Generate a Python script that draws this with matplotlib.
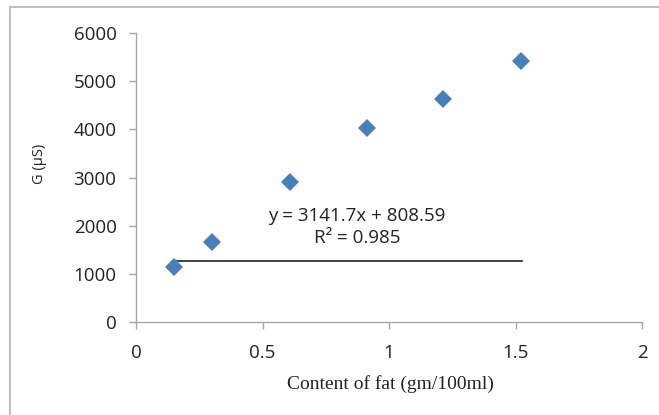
import numpy as np
import matplotlib.pyplot as plt
from matplotlib.patches import Rectangle

# data
FAT = [0.15, 0.30, 0.61, 0.915, 1.215, 1.52]
G = [1140, 1660, 2910, 4020, 4640, 5410]
LINE_X = [0.15, 1.525]
LINE_Y = [1270, 1270]
EQ_TEXT = "y = 3141.7x + 808.59"
R2_TEXT = "R\u00b2 = 0.985"

XTICKS = [0, 0.5, 1, 1.5, 2]
XTICK_LABELS = ["0", "0.5", "1", "1.5", "2"]
YTICKS = [0, 1000, 2000, 3000, 4000, 5000, 6000]

SANS = ["Open Sans", "DejaVu Sans"]
GRAY = "#a6a6a6"

fig = plt.figure(figsize=(6.59, 4.15), dpi=100)
fig.patches.append(Rectangle((10 / 659, -0.1), 1.2, 1 - 7 / 415 + 0.1,
                             transform=fig.transFigure, fill=False,
                             edgecolor="#bfbfbf", linewidth=1.5))

ax = fig.add_axes([136 / 659, 1 - 322 / 415, (642 - 136) / 659, (322 - 33) / 415])

ax.plot(FAT, G, "D", color="#4a7ebb", markersize=9.5, markeredgewidth=0, zorder=3)
ax.plot(LINE_X, LINE_Y, color="#222222", linewidth=1.2, zorder=2)

ax.text(0.874, 2210, EQ_TEXT, ha="center", va="center", fontsize=13.5,
        family=SANS, color="#222222")
ax.text(0.874, 1750, R2_TEXT, ha="center", va="center", fontsize=13.5,
        family=SANS, color="#222222")

ax.set_xlim(0, 2)
ax.set_ylim(0, 6000)
ax.set_xticks(XTICKS)
ax.set_xticklabels(XTICK_LABELS)
ax.set_yticks(YTICKS)

for side in ("top", "right"):
    ax.spines[side].set_visible(False)
for side in ("left", "bottom"):
    ax.spines[side].set_color(GRAY)
    ax.spines[side].set_linewidth(1.0)

ax.tick_params(direction="out", length=5, width=1.0, color=GRAY,
               labelsize=13.5, labelcolor="#222222")
ax.tick_params(axis="x", pad=11)
ax.tick_params(axis="y", pad=9)
for lab in ax.get_xticklabels() + ax.get_yticklabels():
    lab.set_family(SANS)

ax.set_xlabel("Content of fat (gm/100ml)", family="Liberation Serif",
              fontsize=14, color="#222222")
ax.xaxis.set_label_coords(0.502, -0.185)
ax.set_ylabel("G (\u03bcS)", family=SANS, fontsize=10.5, color="#222222")
ax.yaxis.set_label_coords(-0.176, 0.547)

fig.savefig("out.png", dpi=100)
